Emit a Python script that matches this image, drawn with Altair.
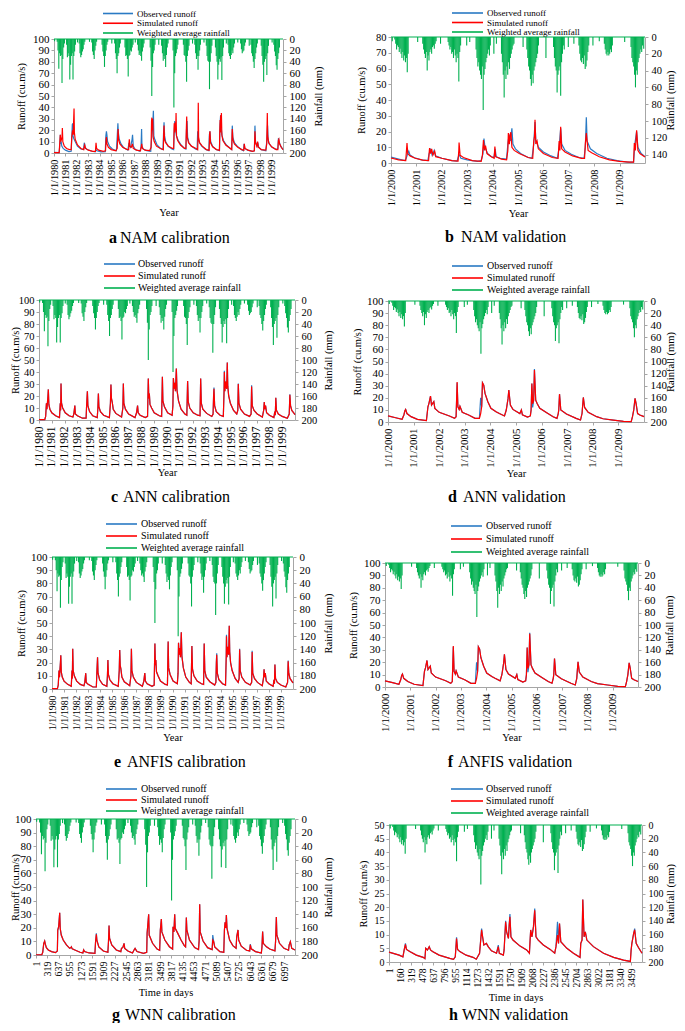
import altair as alt
import pandas as pd

# ------------------------------------------------------------------ data
SERIES = ["Observed runoff", "Simulated runoff", "Weighted average rainfall"]
TITLES = {
    "a": "NAM calibration", "b": "NAM validation",
    "c": "ANN calibration", "d": "ANN validation",
    "e": "ANFIS calibration", "f": "ANFIS validation",
    "g": "WNN calibration", "h": "WNN validation",
}
CAL_YEAR0 = 1980
VAL_YEAR0 = 2000
G_TICKS = [1, 319, 637, 955, 1273, 1591, 1909, 2227, 2545, 2863, 3181, 3499,
           3817, 4135, 4453, 4771, 5089, 5407, 5725, 6043, 6361, 6679, 6997]
H_TICKS = [1, 160, 319, 478, 637, 796, 955, 1114, 1273, 1432, 1591, 1750,
           1909, 2068, 2227, 2386, 2545, 2704, 2863, 3022, 3181, 3340, 3499]

# rainfall (mm): wet-season start (years after period start), sampling step, depths
CAL_RAIN_STEP = 0.07
CAL_RAIN_START = [0.28, 1.10, 2.20, 3.30, 4.20, 5.30, 6.20, 7.30, 8.40, 9.40,
                  10.40, 11.30, 12.30, 13.30, 14.10, 15.20, 16.30, 17.20, 18.10, 19.20]
CAL_RAIN_DEPTH = [
    [5, 20, 52, 25, 30, 28, 77, 35, 15, 8],
    [10, 32, 25, 30, 71, 45, 30, 25, 71, 30, 22, 10],
    [8, 25, 32, 28, 22, 18, 10, 5],
    [6, 22, 28, 35, 20, 12, 5],
    [10, 22, 30, 49, 30, 20, 10, 5],
    [8, 25, 35, 60, 30, 25, 15, 8],
    [15, 30, 28, 35, 66, 30, 28, 20, 22, 15, 10],
    [10, 20, 28, 25, 30, 38, 22, 15, 8],
    [15, 38, 100, 49, 25, 20, 10],
    [12, 25, 38, 30, 35, 49, 28, 15, 8],
    [20, 120, 60, 30, 25, 18, 10],
    [10, 28, 30, 40, 75, 30, 20, 12],
    [10, 25, 35, 30, 54, 30, 20, 10],
    [12, 30, 38, 40, 88, 40, 25, 12],
    [15, 30, 40, 71, 45, 35, 40, 32, 72, 30, 15],
    [10, 25, 30, 35, 28, 20, 25, 15, 8],
    [8, 18, 25, 22, 20, 12, 6],
    [10, 25, 30, 40, 51, 35, 25, 15, 8],
    [12, 30, 45, 75, 40, 35, 30, 63, 25, 12],
    [10, 22, 30, 46, 54, 35, 25, 15],
]
CAL_RAIN_EXTRA = [(0.05, 4), (2.05, 6), (3.10, 5), (5.05, 8), (7.10, 6), (9.15, 10),
                  (12.10, 8), (13.10, 6), (15.05, 8), (16.05, 6), (17.05, 12), (19.05, 6)]

VAL_RAIN_STEP = 0.035
VAL_RAIN_START = [0.15, 1.25, 2.25, 3.35, 4.35, 5.35, 6.40, 7.40, 8.40, 9.45]
VAL_RAIN_DEPTH = [
    [3, 8, 15, 10, 12, 18, 14, 20, 25, 18, 28, 22, 30, 25, 42, 20],
    [8, 15, 20, 25, 18, 40, 22, 28, 18, 15, 20, 12, 10, 14, 8, 5],
    [6, 10, 15, 12, 20, 18, 25, 15, 22, 30, 20, 25, 53, 18, 10],
    [15, 25, 35, 30, 40, 45, 50, 35, 87, 45, 38, 30, 25, 20, 15, 22, 10],
    [20, 30, 45, 72, 40, 50, 35, 45, 30, 38, 25, 20, 15, 10, 8],
    [15, 25, 35, 40, 50, 58, 45, 55, 40, 35, 30, 25, 20, 10],
    [12, 25, 35, 40, 66, 45, 40, 35, 70, 30, 20, 10, 15],
    [10, 20, 28, 30, 25, 32, 22, 38, 35, 28, 18, 10],
    [8, 15, 20, 22, 18, 22, 20, 15, 18, 10],
    [12, 25, 30, 35, 45, 60, 40, 45, 30, 25, 20, 15, 18, 10],
]
VAL_RAIN_EXTRA = [(0.05, 5), (1.05, 6), (1.95, 8), (2.98, 10), (3.10, 6), (4.05, 20),
                  (4.15, 8), (5.20, 12), (6.10, 25), (6.98, 12), (7.20, 8), (7.95, 10),
                  (8.20, 5), (9.20, 6), (9.95, 14)]

# runoff (cu.m/s): (years after period start, value)
A_OBS = [(0.00,0.5),(0.45,0.3),(0.50,6),(0.55,16),(0.58,8),(0.63,10),(0.68,6),(0.80,4),(1.00,2.5),(1.30,1.2),
 (1.50,1.5),(1.55,12),(1.60,25),(1.63,26),(1.66,15),(1.72,13),(1.85,10),(2.05,6),(2.35,3.5),(2.58,3),
 (2.63,8),(2.66,9),(2.72,5),(2.90,3),(3.30,1.5),(3.60,1),(3.66,3),(3.75,2),(4.10,1),(4.48,1.2),
 (4.53,15),(4.58,19),(4.62,16),(4.68,10),(4.85,6),(5.10,3.5),(5.45,2),(5.52,14),(5.58,26),(5.62,18),
 (5.70,12),(5.85,8),(6.10,4.5),(6.45,2.5),(6.55,9),(6.60,6),(6.68,5),(6.82,12),(6.86,16),(6.92,6),
 (7.10,3),(7.50,1.5),(7.60,5),(7.65,21),(7.68,6),(7.80,3.5),(8.10,2),(8.45,1.5),(8.52,12),(8.60,20),
 (8.68,37),(8.72,15),(8.80,12),(9.00,7),(9.30,4),(9.52,3),(9.57,18),(9.61,27),(9.66,15),(9.75,10),
 (9.95,6),(10.30,3.5),(10.45,3),(10.50,20),(10.55,28),(10.62,20),(10.70,15),(10.85,11),(11.10,7),(11.40,4),
 (11.52,3.5),(11.57,20),(11.62,28),(11.67,14),(11.78,9),(12.00,6),(12.35,3.5),(12.50,3),(12.55,19),(12.60,12),
 (12.70,9),(12.90,6),(13.25,3),(13.52,2),(13.57,16),(13.62,19),(13.68,10),(13.85,6),(14.15,3),(14.45,2),
 (14.50,25),(14.55,33),(14.60,22),(14.68,15),(14.80,11),(15.05,7),(15.40,4),(15.52,3),(15.57,24),(15.62,14),
 (15.75,9),(16.00,6),(16.35,3),(16.55,2),(16.60,8),(16.66,4),(16.90,2.5),(17.30,1.5),(17.50,2),(17.55,24),
 (17.60,10),(17.72,6),(17.80,9),(17.88,5),(18.10,3),(18.50,2),(18.58,10),(18.65,24),(18.70,12),(18.80,8),
 (19.05,5),(19.40,3),(19.55,4),(19.60,13),(19.66,10),(19.80,6),(20.00,3)]
A_SIM = [(0.00,0.3),(0.45,0.3),(0.50,8),(0.55,16),(0.60,10),(0.70,14),(0.73,22),(0.77,10),(0.90,6),(1.10,4),
 (1.35,3),(1.50,3),(1.55,14),(1.62,20),(1.68,16),(1.72,30),(1.75,39),(1.78,18),(1.85,12),(2.05,7),
 (2.35,4),(2.60,3),(2.65,6),(2.68,7),(2.75,4),(3.00,2.5),(3.40,1.5),(3.62,1.5),(3.67,9),(3.72,4),
 (3.90,2.5),(4.30,1.5),(4.50,2),(4.55,12),(4.58,14),(4.63,8),(4.75,5),(5.00,3),(5.40,2),(5.52,4),
 (5.57,15),(5.60,21),(5.64,12),(5.75,8),(6.00,5),(6.40,3),(6.52,3),(6.56,10),(6.58,12),(6.62,6),
 (6.75,5),(6.85,8),(6.92,4),(7.20,2.5),(7.55,2),(7.63,6),(7.66,8),(7.72,4),(7.95,2.5),(8.35,2),
 (8.48,5),(8.52,28),(8.55,31),(8.58,20),(8.62,30),(8.66,14),(8.75,10),(8.95,6),(9.30,4),(9.55,3),
 (9.58,18),(9.61,24),(9.65,12),(9.75,9),(10.00,6),(10.35,4),(10.45,4),(10.50,26),(10.55,18),(10.60,27),
 (10.63,20),(10.66,35),(10.70,15),(10.80,11),(11.05,7),(11.40,4),(11.52,4),(11.56,22),(11.59,32),(11.63,14),
 (11.75,9),(12.00,6),(12.40,4),(12.55,3),(12.58,15),(12.60,44),(12.63,14),(12.72,9),(12.95,6),(13.30,3),
 (13.55,2.5),(13.59,16),(13.62,19),(13.67,9),(13.85,5.5),(14.20,3),(14.45,2.5),(14.48,20),(14.51,29),(14.53,18),
 (14.56,33),(14.59,22),(14.62,35),(14.66,16),(14.75,11),(15.00,7),(15.40,4),(15.52,3),(15.55,15),(15.57,21),
 (15.62,12),(15.75,8),(16.05,5),(16.40,3),(16.58,2.5),(16.62,8),(16.68,4),(16.95,2.5),(17.35,1.5),(17.50,2),
 (17.53,12),(17.55,19),(17.60,9),(17.72,6),(17.78,10),(17.85,5),(18.10,3),(18.50,2.5),(18.58,8),(18.63,35),
 (18.66,15),(18.75,9),(19.00,5.5),(19.40,3),(19.55,3),(19.60,11),(19.64,12),(19.70,8),(19.85,5),(20.00,3)]

B_OBS = [(0.00,3.8),(0.30,2.5),(0.55,1.5),(0.60,3),(0.66,6),(0.70,7.5),(0.75,5),(0.90,3.5),(1.20,2),(1.45,1.5),
 (1.50,6),(1.56,8.5),(1.62,5),(1.70,8),(1.75,4.5),(2.00,3),(2.40,1.5),(2.60,1.2),(2.65,4),(2.70,5),
 (2.75,3),(3.00,2),(3.40,1),(3.55,1.5),(3.62,6),(3.66,15.5),(3.70,10),(3.80,6),(3.95,4),(4.05,3.5),
 (4.10,9),(4.14,4),(4.30,3),(4.55,2.5),(4.60,12),(4.65,18),(4.70,14),(4.76,22),(4.80,12),(4.90,9),
 (5.10,6),(5.40,3.5),(5.55,3),(5.62,12),(5.67,26),(5.70,15),(5.80,10),(6.00,7),(6.30,4.5),(6.55,3),
 (6.62,10),(6.68,22),(6.72,12),(6.85,8),(7.10,5.5),(7.40,3.5),(7.60,3),(7.65,10),(7.69,29),(7.72,14),
 (7.85,9),(8.10,6),(8.50,3),(8.90,1.5),(9.30,0.6),(9.55,0.5),(9.60,12),(9.67,20),(9.72,10),(9.85,6),(10.00,4)]
B_SIM = [(0.00,3.2),(0.30,2),(0.58,1.5),(0.61,8),(0.63,12.7),(0.66,6),(0.75,4.5),(0.95,3),(1.25,1.8),(1.48,1.5),
 (1.51,8),(1.52,9.5),(1.56,6),(1.60,9),(1.65,5),(1.72,7.5),(1.76,4),(2.00,3),(2.40,1.5),(2.64,1.2),
 (2.67,8),(2.68,13),(2.72,5),(2.85,3.5),(3.20,1.5),(3.55,1),(3.60,5),(3.64,14.5),(3.68,8),(3.72,11),
 (3.78,6),(3.95,4),(4.06,3),(4.09,10.5),(4.12,4),(4.35,2.5),(4.55,2),(4.60,8),(4.62,19),(4.66,12),
 (4.69,18),(4.72,19.5),(4.76,10),(4.85,8),(5.05,6),(5.40,3.5),(5.58,3),(5.62,14),(5.65,17),(5.67,27.5),
 (5.70,12),(5.75,14),(5.80,9),(6.00,6),(6.35,3.5),(6.58,3),(6.62,14),(6.65,8),(6.68,23),(6.72,9),
 (6.85,7),(7.15,4.5),(7.50,3),(7.62,3),(7.65,12),(7.69,19),(7.72,14),(7.76,8),(7.90,6.5),(8.20,4),
 (8.60,2),(9.00,1),(9.40,0.5),(9.55,0.5),(9.58,12.7),(9.62,8),(9.67,20.7),(9.72,8),(9.80,6),(10.00,3.8)]

# ANN / ANFIS calibration (the two panels show the same hydrograph)
C_SIM = [(0.00,0.3),(0.45,0.3),(0.52,3),(0.58,14),(0.62,9),(0.70,20),(0.73,25.5),(0.77,13),(0.85,9),(1.00,6),
 (1.30,3.5),(1.60,2),(1.66,14),(1.69,8),(1.72,30.5),(1.76,14),(1.85,10),(2.05,6),(2.35,3.5),(2.65,2.5),
 (2.72,5),(2.80,12),(2.84,5),(3.00,3.5),(3.40,1.5),(3.68,1.5),(3.72,12),(3.78,24),(3.82,12),(3.95,7),
 (4.20,3.5),(4.55,2),(4.60,10),(4.64,22),(4.68,11),(4.80,7),(5.05,4),(5.50,2),(5.58,14),(5.62,29.5),
 (5.66,18),(5.72,15),(5.80,9),(6.00,5.5),(6.45,2.5),(6.55,10),(6.59,30.5),(6.63,14),(6.75,9),(7.00,5),
 (7.50,2),(7.62,6),(7.70,12),(7.75,6),(7.90,4),(8.30,2),(8.48,3),(8.54,34.5),(8.58,18),(8.62,22),
 (8.67,13),(8.80,10),(9.00,6),(9.40,3.5),(9.58,3),(9.64,36),(9.68,16),(9.80,11),(10.05,6),(10.40,4),
 (10.46,12),(10.50,35),(10.55,26),(10.60,31),(10.66,24),(10.73,43),(10.78,25),(10.90,16),(11.10,9),(11.40,5),
 (11.55,4),(11.61,32.5),(11.66,15),(11.78,10),(12.05,6),(12.40,4),(12.58,3.5),(12.63,34.5),(12.68,14),(12.80,9),
 (13.10,5.5),(13.50,3),(13.60,5),(13.64,20),(13.67,26),(13.72,12),(13.85,7),(14.15,4),(14.40,3),(14.46,25),
 (14.48,40),(14.52,24),(14.58,32),(14.66,26),(14.71,48),(14.75,28),(14.82,20),(14.95,14),(15.20,8),(15.45,5),
 (15.53,8),(15.57,30),(15.62,14),(15.75,9),(16.05,5),(16.45,3),(16.57,5),(16.61,28),(16.66,12),(16.80,8),
 (17.05,5),(17.45,2.5),(17.55,8),(17.60,15),(17.64,9),(17.70,12),(17.78,6),(18.00,4),(18.35,2),(18.42,7),
 (18.46,4),(18.50,18.5),(18.55,8),(18.70,5),(19.00,3),(19.40,1.5),(19.55,5),(19.60,21),(19.65,12),(19.75,8),
 (19.90,6),(20.00,4.5)]
C_OBS_PEAKS = {13.67: 27, 14.48: 41, 15.57: 30.5, 16.61: 29, 19.60: 21.5}

# ANN / ANFIS validation
D_SIM = [(0.00,5),(0.30,3.5),(0.55,2.2),(0.62,5.8),(0.66,9.3),(0.69,10.4),(0.74,7),(0.90,4.4),(1.15,2.2),(1.50,1.1),
 (1.56,12.6),(1.60,15.4),(1.66,21.4),(1.70,14),(1.79,16.8),(1.83,11.3),(2.00,8),(2.40,5),(2.60,3),(2.66,4.4),
 (2.70,33),(2.73,12.6),(2.78,10.4),(2.81,13),(2.90,8),(3.15,5.8),(3.40,3),(3.57,3),(3.62,7),(3.66,12.6),
 (3.69,32.4),(3.74,30.5),(3.79,23.6),(3.90,16.8),(4.02,11.3),(4.22,8.5),(4.35,7),(4.55,5),(4.62,9.9),(4.69,19.5),
 (4.72,26.4),(4.78,14),(4.88,10.4),(5.15,7),(5.21,10),(5.25,6),(5.45,4),(5.56,5),(5.59,9.9),(5.62,31.9),
 (5.65,15),(5.69,18),(5.72,42.9),(5.77,18),(5.83,15),(5.93,11.3),(6.20,7.7),(6.45,4.4),(6.60,3),(6.65,7),
 (6.67,9.9),(6.70,23),(6.75,9.9),(6.97,6.6),(7.35,3),(7.52,1.6),(7.58,7),(7.60,12.6),(7.63,20.3),(7.68,12),
 (7.82,8),(8.15,4.4),(8.40,2.7),(8.80,1.6),(9.20,0.5),(9.50,0.3),(9.55,4.4),(9.60,10),(9.65,19.5),(9.69,15.4),
 (9.75,7),(9.84,5.8),(10.00,4.4)]
D_OBS_PEAKS = {2.70: 32.5, 3.62: 20, 5.65: 12, 5.72: 43.7}

G_SIM = [(0.00,0.2),(0.45,0.2),(0.52,2),(0.60,8.6),(0.67,10.3),(0.72,8),(0.80,5.4),(0.95,3.7),(1.20,2.5),(1.50,1.7),
 (1.65,3),(1.68,18.4),(1.75,20.8),(1.83,31),(1.87,19.6),(1.95,14.7),(2.10,11),(2.35,7.4),(2.60,4.9),(2.70,5.4),
 (2.73,6),(2.80,4.5),(3.00,3.7),(3.40,2),(3.62,1.5),(3.68,3.7),(3.75,2.5),(4.10,1.5),(4.55,1.2),(4.60,9.8),
 (4.66,15.2),(4.70,11),(4.85,6),(5.20,2.9),(5.55,2),(5.60,10.3),(5.64,21.6),(5.68,12.3),(5.85,7.4),(6.20,3.7),
 (6.55,2.5),(6.60,4.9),(6.70,5.4),(6.80,8.6),(6.85,4.9),(7.10,2.9),(7.45,1.5),(7.57,3.7),(7.65,4.9),(7.80,2.5),
 (8.30,1.2),(8.55,2),(8.58,15.9),(8.70,30),(8.74,14.7),(9.00,8.6),(9.35,4.4),(9.55,3.5),(9.60,18.4),(9.68,26.5),
 (9.72,17),(9.95,11),(10.30,6.1),(10.55,4.4),(10.58,20.8),(10.65,17),(10.71,30),(10.75,19.6),(10.95,15.9),(11.20,11),
 (11.45,6.9),(11.55,6),(11.61,27.5),(11.65,18.4),(11.85,11),(12.25,5.4),(12.55,4),(12.60,11),(12.64,37.3),(12.68,17),
 (12.90,10.3),(13.25,5.4),(13.60,4),(13.65,11),(13.72,10),(13.80,6),(14.20,2.5),(14.50,2),(14.55,18.4),(14.60,24),
 (14.66,20),(14.70,29.4),(14.75,19.6),(14.95,11),(15.20,6.9),(15.45,5),(15.50,13.5),(15.60,18.4),(15.65,11),(15.85,6.5),
 (16.25,3.5),(16.50,3),(16.55,7.4),(16.62,4.5),(16.95,2.5),(17.40,1.5),(17.45,6),(17.50,17.2),(17.55,8.6),(17.80,6),
 (18.05,4.4),(18.45,3),(18.50,10),(18.56,28),(18.60,14.7),(18.80,8.6),(19.15,4.9),(19.50,3.5),(19.55,7.4),(19.64,9.8),
 (19.75,4.9),(20.00,3.7)]
G_OBS_PEAKS = {4.66: 16, 13.65: 14.7, 16.55: 8}

H_SIM = [(0.00,3.6),(0.40,2.5),(0.55,1.9),(0.60,4.4),(0.65,6.4),(0.69,4.6),(0.82,3.8),(1.08,2.5),(1.35,1.7),(1.42,1.2),
 (1.45,5),(1.52,4.4),(1.59,5.6),(1.64,4.4),(1.72,3.8),(1.98,2.5),(2.40,1.3),(2.55,1),(2.62,1.9),(2.67,8.6),
 (2.71,4.6),(2.80,3.8),(3.05,2.5),(3.32,1.7),(3.45,1),(3.58,3.2),(3.66,11.7),(3.70,9.2),(3.75,6.2),(3.85,6.8),
 (3.92,5.6),(4.05,4.1),(4.25,3.2),(4.32,5.6),(4.36,3.2),(4.52,2.5),(4.55,4.4),(4.61,14.7),(4.65,11),(4.72,8.6),
 (4.75,13.5),(4.78,16.5),(4.82,9.2),(4.90,8),(5.18,5.8),(5.44,4.4),(5.55,3.2),(5.57,6.8),(5.60,11.7),(5.65,9.2),
 (5.71,12.9),(5.76,18.9),(5.81,9.2),(5.90,8),(6.10,6.2),(6.37,4.6),(6.55,3.2),(6.60,5.6),(6.66,9.8),(6.70,6.8),
 (6.74,14),(6.79,7.4),(7.03,5),(7.29,3.2),(7.55,1.7),(7.58,6.8),(7.63,8),(7.66,22.8),(7.71,9.2),(7.76,11),
 (7.82,8),(8.08,5.6),(8.48,3.2),(8.88,1.7),(9.27,0.7),(9.54,0.2),(9.57,4.4),(9.60,6.8),(9.67,10.4),(9.71,11.7),
 (9.77,6.8),(9.86,5.3),(10.00,3.2)]
H_OBS_PEAKS = {0.65: 6.8, 2.67: 9, 3.66: 12.2, 4.32: 6.2, 4.61: 15, 4.78: 17.5, 5.76: 19.5, 6.66: 14.7, 9.71: 12.2}

# ------------------------------------------------------------------ style / layout
W, H = 669, 1015
FONT = "Times New Roman, Liberation Serif, DejaVu Serif, serif"
BLUE, RED, GREEN, GREY = "#2a7ac4", "#ff0000", "#00b050", "#a6a6a6"


def with_peaks(points, peaks):
    return [(t, peaks.get(t, v)) for t, v in points]


def runoff_df(points, year0, days):
    df = pd.DataFrame(points, columns=["t", "v"])
    df["x"] = df["t"] * 365.25 + 1 if days else df["t"] + year0
    return df


def rain_df(starts, depths, step, extra, year0, days):
    rows = []
    for s, ds in zip(starts, depths):
        for i, d in enumerate(ds):
            rows.append((s + i * step, d))
    rows += extra
    df = pd.DataFrame(rows, columns=["t", "d"])
    df["x"] = df["t"] * 365.25 + 1 if days else df["t"] + year0
    df["z"] = 0
    return df


CAL_RAIN = (CAL_RAIN_START, CAL_RAIN_DEPTH, CAL_RAIN_STEP, CAL_RAIN_EXTRA)
VAL_RAIN = (VAL_RAIN_START, VAL_RAIN_DEPTH, VAL_RAIN_STEP, VAL_RAIN_EXTRA)

PANELS = [
    dict(k="a", box=(46, 275, 31, 145), year0=CAL_YEAR0, span=20, days=False, rain=CAL_RAIN,
         obs=A_OBS, sim=A_SIM, ymax=100, ystep=10, rmax=200, rtop=200,
         tl=33, tr=35, tb=59, xfs=10.3, yfs=11, leg=(95, 125, 129, 5.5, 25), lfs=9,
         ttl=(109, 112, 235)),
    dict(k="b", box=(383, 637, 29, 155), year0=VAL_YEAR0, span=10, days=False, rain=VAL_RAIN,
         obs=B_OBS, sim=B_SIM, ymax=80, ystep=10, rmax=150, rtop=140,
         tl=30, tr=25, tb=50, xfs=10.3, yfs=10.5, leg=(444, 475, 479, 5, 24), lfs=9,
         ttl=(446, 453, 234)),
    dict(k="c", box=(31, 287, 292, 412), year0=CAL_YEAR0, span=20, days=False, rain=CAL_RAIN,
         obs=with_peaks(C_SIM, C_OBS_PEAKS), sim=C_SIM, ymax=100, ystep=10, rmax=200, rtop=200,
         tl=24, tr=33, tb=52, xfs=11.5, yfs=10.5, leg=(96, 127, 130, 256, 280), lfs=10,
         ttl=(110, 115, 494)),
    dict(k="d", box=(380, 636, 293, 414), year0=VAL_YEAR0, span=10, days=False, rain=VAL_RAIN,
         obs=with_peaks(D_SIM, D_OBS_PEAKS), sim=D_SIM, ymax=100, ystep=10, rmax=200, rtop=200,
         tl=31, tr=26, tb=51, xfs=11, yfs=11, leg=(444, 475, 479, 258, 282), lfs=10,
         ttl=(449, 455, 494)),
    dict(k="e", box=(44, 285, 549, 681), year0=CAL_YEAR0, span=20, days=False, rain=CAL_RAIN,
         obs=with_peaks(C_SIM, C_OBS_PEAKS), sim=C_SIM, ymax=100, ystep=10, rmax=200, rtop=200,
         tl=31, tr=35, tb=48, xfs=9.8, yfs=11, leg=(98, 129, 133, 516, 540), lfs=10,
         ttl=(113, 119, 759)),
    dict(k="f", box=(377, 630, 555, 679), year0=VAL_YEAR0, span=10, days=False, rain=VAL_RAIN,
         obs=with_peaks(D_SIM, D_OBS_PEAKS), sim=D_SIM, ymax=100, ystep=10, rmax=200, rtop=200,
         tl=32, tr=31, tb=50, xfs=10.8, yfs=11, leg=(443, 474, 478, 518, 544), lfs=10,
         ttl=(445, 450, 759)),
    dict(k="g", box=(28, 287, 811, 947), year0=CAL_YEAR0, span=20, days=True, rain=CAL_RAIN,
         obs=with_peaks(G_SIM, G_OBS_PEAKS), sim=G_SIM, ymax=100, ystep=10, rmax=200, rtop=200,
         tl=21, tr=33, tb=37, xfs=10, yfs=11, leg=(98, 129, 133, 781, 803), lfs=10,
         ttl=(112, 117, 1012), ticks=G_TICKS),
    dict(k="h", box=(381, 634, 817, 954), year0=VAL_YEAR0, span=10, days=True, rain=VAL_RAIN,
         obs=with_peaks(H_SIM, H_OBS_PEAKS), sim=H_SIM, ymax=50, ystep=5, rmax=200, rtop=200,
         tl=26, tr=28, tb=35, xfs=9.5, yfs=10, leg=(443, 475, 478, 781, 805), lfs=10,
         ttl=(450, 454, 1012), ticks=H_TICKS),
]

AX = dict(grid=False, domainColor=GREY, tickColor=GREY, tickSize=3, labelFont=FONT,
          labelColor="black", titleFont=FONT, titleFontSize=10.5, titleFontWeight="normal",
          titleColor="black", titleAlign="center", titleBaseline="middle")


def make_layers(p):
    x0, x1, y0, y1 = p["box"]
    days = p["days"]
    if days:
        xdom = [1, p["span"] * 365.25 + 1]
    else:
        xdom = [p["year0"], p["year0"] + p["span"]]
    xs = alt.Scale(domain=xdom, range=[x0, x1], nice=False, zero=False)
    ys = alt.Scale(domain=[0, p["ymax"]], range=[y1, y0], nice=False, zero=False)
    rs = alt.Scale(domain=[0, p["rmax"]], range=[y0, y1], nice=False, zero=False)

    if days:
        xaxis = alt.Axis(orient="bottom", offset=y1 - H, values=p["ticks"], format="d",
                         labelAngle=270, labelAlign="right", labelBaseline="middle",
                         labelFontSize=p["xfs"], labelPadding=3, labelOverlap=False,
                         labelFlush=False, title="Time in days",
                         titleX=(x0 + x1) / 2, titleY=p["tb"], **AX)
    else:
        years = list(range(p["year0"], p["year0"] + p["span"]))
        xaxis = alt.Axis(orient="bottom", offset=y1 - H, values=years,
                         labelExpr="'1/1/' + datum.value",
                         labelAngle=270, labelAlign="right", labelBaseline="middle",
                         labelFontSize=p["xfs"], labelPadding=3, labelOverlap=False,
                         labelFlush=False, title="Year",
                         titleX=(x0 + x1) / 2, titleY=p["tb"], **AX)
    laxis = alt.Axis(orient="left", offset=-x0, values=list(range(0, p["ymax"] + 1, p["ystep"])),
                     format="d", labelFontSize=p["yfs"], labelPadding=2, labelOverlap=False,
                     title="Runoff (cu.m/s)", titleAngle=270,
                     titleX=-p["tl"], titleY=(y0 + y1) / 2, **AX)
    raxis = alt.Axis(orient="right", offset=x1 - W, values=list(range(0, p["rtop"] + 1, 20)),
                     format="d", labelFontSize=p["yfs"], labelPadding=3, labelOverlap=False,
                     title="Rainfall (mm)", titleAngle=270,
                     titleX=p["tr"], titleY=(y0 + y1) / 2, **AX)

    starts, depths, step, extra = p["rain"]
    rdf = rain_df(starts, depths, step, extra, p["year0"], days)
    rain = alt.Chart(rdf).mark_rule(color=GREEN, strokeWidth=1.1).encode(
        x=alt.X("x:Q", scale=xs, axis=xaxis),
        y=alt.Y("d:Q", scale=rs, axis=raxis),
        y2=alt.Y2("z:Q"),
    )
    top = alt.Chart(pd.DataFrame({"xa": [xdom[0]], "xb": [xdom[1]], "z": [0]})).mark_rule(
        color=GREEN, strokeWidth=1.2).encode(
        x=alt.X("xa:Q", scale=xs, axis=None), x2=alt.X2("xb:Q"),
        y=alt.Y("z:Q", scale=rs, axis=None),
    )
    obs = alt.Chart(runoff_df(p["obs"], p["year0"], days)).mark_line(
        color=BLUE, strokeWidth=1.2).encode(
        x=alt.X("x:Q", scale=xs, axis=None),
        y=alt.Y("v:Q", scale=ys, axis=laxis),
    )
    sim = alt.Chart(runoff_df(p["sim"], p["year0"], days)).mark_line(
        color=RED, strokeWidth=1.2).encode(
        x=alt.X("x:Q", scale=xs, axis=None),
        y=alt.Y("v:Q", scale=ys, axis=None),
    )

    lx0, lx1, tx, r0, r2 = p["leg"]
    ldf = pd.DataFrame({"label": SERIES})
    ly = alt.Y("label:N", scale=alt.Scale(type="point", domain=SERIES, range=[r0, r2], padding=0),
               axis=None)
    leg_rule = alt.Chart(ldf).mark_rule(strokeWidth=1.6).encode(
        x=alt.value(lx0), x2=alt.value(lx1), y=ly,
        color=alt.Color("label:N", scale=alt.Scale(domain=SERIES, range=[BLUE, RED, GREEN]),
                        legend=None),
    )
    leg_text = alt.Chart(ldf).mark_text(align="left", baseline="middle", font=FONT,
                                        fontSize=p["lfs"], color="black").encode(
        x=alt.value(tx), y=ly, text="label:N")

    lx, rx, ty = p["ttl"]
    t_letter = alt.Chart(pd.DataFrame({"s": [p["k"]]})).mark_text(
        align="right", baseline="alphabetic", font=FONT, fontSize=16, fontWeight="bold",
        color="black").encode(x=alt.value(lx), y=alt.value(ty), text="s:N")
    t_rest = alt.Chart(pd.DataFrame({"s": [TITLES[p["k"]]]})).mark_text(
        align="left", baseline="alphabetic", font=FONT, fontSize=16,
        color="black").encode(x=alt.value(rx), y=alt.value(ty), text="s:N")
    return [rain, top, obs, sim, leg_rule, leg_text, t_letter, t_rest]


layers = []
for p in PANELS:
    layers += make_layers(p)

chart = alt.layer(*layers).resolve_scale(
    x="independent", y="independent", color="independent"
).properties(
    width=W, height=H, padding=0, autosize=alt.AutoSizeParams(type="none")
).configure_view(stroke=None)

chart.save("out.html", embed_options={"renderer": "svg", "actions": False})
